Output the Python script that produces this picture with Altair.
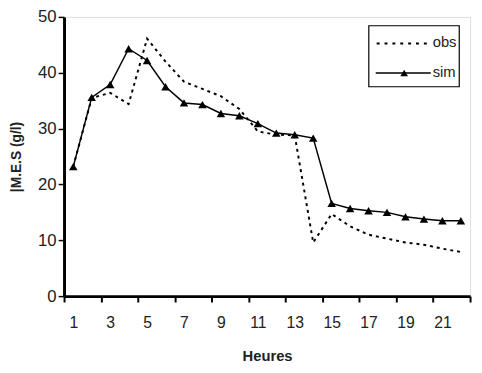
import altair as alt
import pandas as pd

hours = list(range(1, 23))
obs = [23.2, 35.5, 36.4, 34.4, 46.1, 42.0, 38.4, 37.1, 35.8, 33.5, 29.5,
       28.9, 28.8, 9.6, 14.7, 12.5, 11.0, 10.3, 9.6, 9.2, 8.5, 7.9]
sim = [23.2, 35.6, 37.9, 44.3, 42.2, 37.5, 34.6, 34.3, 32.7, 32.3, 30.9,
       29.2, 28.9, 28.3, 16.6, 15.7, 15.3, 15.0, 14.2, 13.8, 13.5, 13.5]
# tick marks sit on category boundaries; labels (1, 3, ..., 21) sit half a category right
mark_ticks = [0.5, 2.5, 4.5, 6.5, 8.5, 10.5, 12.5, 14.5, 16.5, 18.5, 20.5, 22.5]
y_ticks = [0, 10, 20, 30, 40, 50]
series_names = ["obs", "sim"]

df = pd.DataFrame({"h": hours, "obs": obs, "sim": sim})

FONT = "Liberation Sans"
W, H = 413, 284
xscale = alt.Scale(domain=[0.5, 22.5], nice=False, zero=False)
yscale = alt.Scale(domain=[0, 50], nice=False)

yaxis = alt.Axis(values=y_ticks, tickCount=20, tickSize=6, tickColor="black",
                 tickWidth=1.5, labelFontSize=17, labelFont=FONT,
                 labelColor="#222", labelPadding=2, domainColor="black",
                 domainWidth=3, grid=False, title="|M.E.S (g/l)",
                 titleFont=FONT, titleFontSize=14, titleFontWeight="bold",
                 titleColor="#222", titlePadding=14)

xaxis = alt.Axis(
    values=mark_ticks, tickCount=40,
    labelExpr="datum.value < 22 ? '' + (datum.value + 0.5) : ''",
    labelOffset=W / 22 / 2,
    tickSize=6, tickWidth=2, tickColor="black",
    labelFontSize=16, labelFont=FONT, labelColor="#222", labelPadding=13,
    labelOverlap=False, labelFlush=False,
    domainColor="black", domainWidth=3, grid=False,
    title="Heures", titleFont=FONT, titleFontSize=15, titleFontWeight="bold",
    titleColor="#222", titlePadding=18)

sim_line = alt.Chart(df).mark_line(color="black", strokeWidth=1.5).encode(
    x=alt.X("h:Q", scale=xscale, axis=xaxis),
    y=alt.Y("sim:Q", scale=yscale, axis=yaxis),
)

sim_pts = alt.Chart(df).mark_point(shape="triangle-up", filled=True, color="black",
                                   size=75, opacity=1).encode(
    x=alt.X("h:Q", scale=xscale),
    y=alt.Y("sim:Q", scale=yscale),
)

obs_line = alt.Chart(df).mark_line(color="black", strokeWidth=2,
                                   strokeDash=[3, 4]).encode(
    x=alt.X("h:Q", scale=xscale),
    y=alt.Y("obs:Q", scale=yscale),
)

leg_df = pd.DataFrame({"name": series_names, "row": [0, 1]})
box = alt.Chart(pd.DataFrame({"a": [0]})).mark_rect(
    fill="white", stroke="black", strokeWidth=1.2).encode(
    x=alt.value(310), x2=alt.value(402), y=alt.value(9), y2=alt.value(71))
leg_obs = alt.Chart(leg_df[leg_df.name == "obs"]).mark_rule(
    color="black", strokeWidth=2, strokeDash=[3, 5]).encode(
    x=alt.value(318), x2=alt.value(373), y=alt.value(27))
leg_sim = alt.Chart(leg_df[leg_df.name == "sim"]).mark_rule(
    color="black", strokeWidth=1.5).encode(
    x=alt.value(317), x2=alt.value(373), y=alt.value(57))
leg_tri = alt.Chart(leg_df[leg_df.name == "sim"]).mark_point(
    shape="triangle-up", filled=True, color="black", size=60, opacity=1).encode(
    x=alt.value(346), y=alt.value(57))
leg_txt_obs = alt.Chart(leg_df[leg_df.name == "obs"]).mark_text(
    align="left", baseline="middle", font=FONT, fontSize=15, color="#222").encode(
    x=alt.value(375), y=alt.value(26), text="name:N")
leg_txt_sim = alt.Chart(leg_df[leg_df.name == "sim"]).mark_text(
    align="left", baseline="middle", font=FONT, fontSize=15, color="#222").encode(
    x=alt.value(375), y=alt.value(56), text="name:N")

chart = alt.layer(
    sim_line, obs_line, sim_pts, box, leg_obs, leg_sim, leg_tri,
    leg_txt_obs, leg_txt_sim
).properties(
    width=W, height=H,
    autosize=alt.AutoSizeParams(type="none"),
    padding={"left": 57, "top": 6, "right": 4, "bottom": 68},
).configure_view(stroke="black", strokeWidth=3).configure(background="white")

chart.save("out.html", embed_options={"renderer": "svg", "actions": False})
